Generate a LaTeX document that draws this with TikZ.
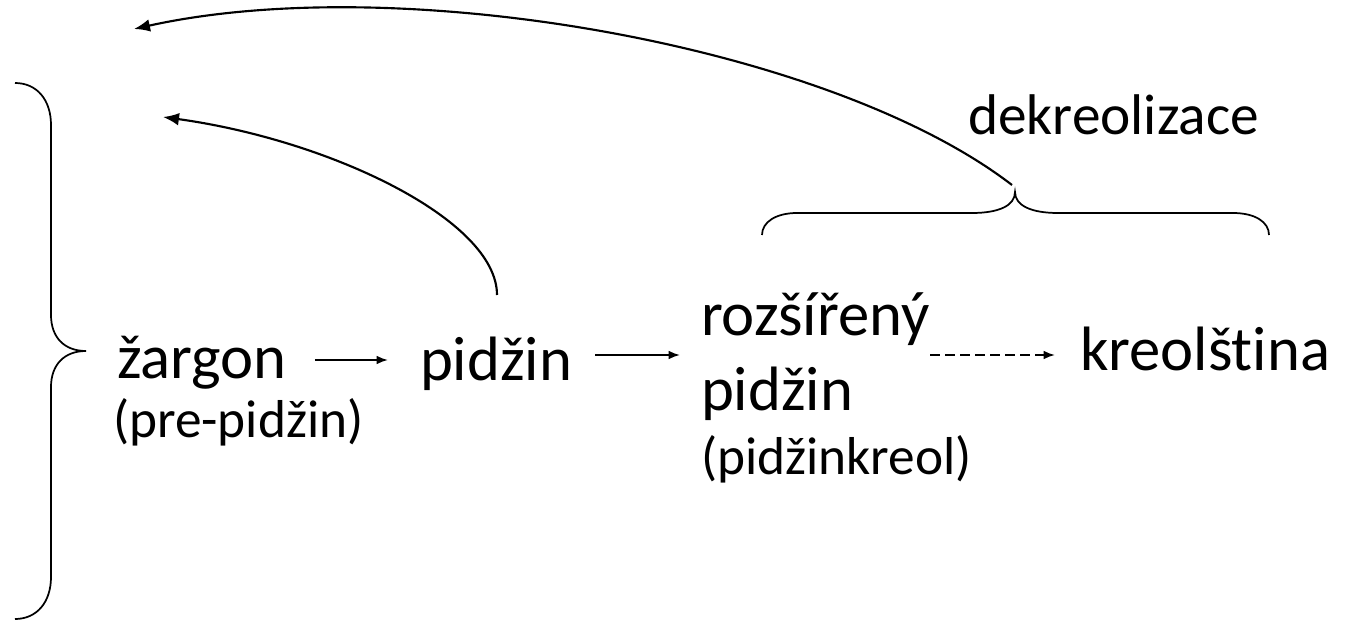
\documentclass[tikz,border=0pt]{standalone}
\usepackage{fontspec}
\setmainfont{Carlito}[Ligatures={NoCommon,NoRare}]
\usetikzlibrary{arrows.meta,calc}
\tikzset{
  lbl/.style={anchor=base west, inner sep=0pt, outer sep=0pt},
  big/.style={lbl, font=\fontsize{47}{50}\selectfont},
  small/.style={lbl, font=\fontsize{40}{44}\selectfont},
  mid/.style={lbl, font=\fontsize{43}{46}\selectfont},
  arr/.style={line width=1.4pt, -{Latex[length=8.5pt,width=6.5pt]}},
  curvearr/.style={line width=1.6pt, -{Latex[length=12pt,width=9.5pt]}},
  brace/.style={line width=1.3pt},
}
\begin{document}
\begin{tikzpicture}[x=0.75pt,y=-0.75pt]
\useasboundingbox (0,0) rectangle (1348,620);
% text nodes
\node[big] (zargon) at (117,378) {žargon};
\node[small] (prepidzin) at (113,437) {(pre-pidžin)};
\node[big] (pidzin) at (420,380) {pidžin};
\node[big] (rozs) at (701,335) {rozšířený};
\node[big] (pidzin2) at (701,410) {pidžin};
\node[small] (kreol) at (701,474) {(pidžinkreol)};
\node[big] (kreolstina) at (1080,370) {kreolština};
\node[mid] (dekreol) at (968,135) {dekreolizace};
% braces
\coordinate (ltip) at (86,351);
\draw[brace] (15,83) .. controls (37,83) and (51,100) .. (51,125) -- (51,315)
  .. controls (51,337) and (64,351) .. (ltip)
  .. controls (64,351) and (51,365) .. (51,387) -- (51,577)
  .. controls (51,602) and (37,619) .. (15,619);
\coordinate (ttip) at (1015,192);
\draw[brace] (762,235) .. controls (762,222) and (776,213) .. (797,213) -- (972,213)
  .. controls (998,213) and (1015,206) .. (ttip)
  .. controls (1015,206) and (1032,213) .. (1058,213) -- (1233,213)
  .. controls (1255,213) and (1269,222) .. (1269,235);
% arrow targets
\coordinate (bigtarget) at (134,29);
\coordinate (smalltarget) at (163,117);
% straight arrows
\draw[arr] ($(zargon.base east)+(28,-18)$) -- ($(pidzin.base west)+(-32,-20)$);
\draw[arr] ($(pidzin.base east)+(23,-25)$) -- ($(rozs.base west)+(-21,20)$);
\draw[arr, dash pattern=on 7.5pt off 3.75pt] ($(rozs.base east)+(1,20)$) -- ($(kreolstina.base west)+(-25,-15)$);
% curved arrows
\draw[curvearr] ($(ttip)+(-3,-7)$) .. controls (830,45) and (400,-30) .. (bigtarget);
\draw[curvearr] ($(pidzin.base west)+(77,-85)$) .. controls (497,220) and (330,140) .. (smalltarget);
\end{tikzpicture}
\end{document}
